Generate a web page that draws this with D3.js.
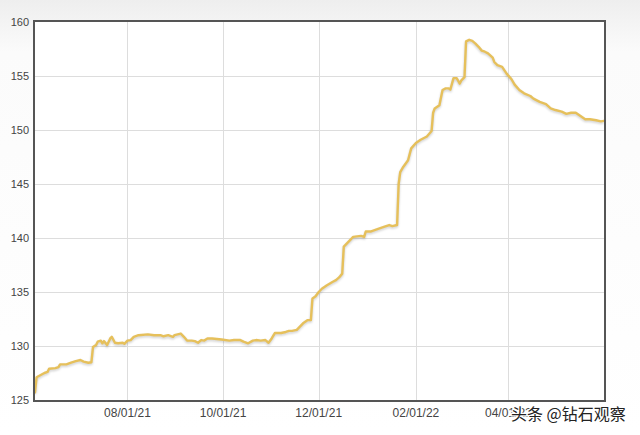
<!DOCTYPE html>
<html>
<head>
<meta charset="utf-8">
<script src="https://cdn.jsdelivr.net/npm/d3@7"></script>
<style>
  html, body { margin: 0; padding: 0; background: #fff; }
  svg { display: block; }
</style>
</head>
<body>
<svg id="chart" width="640" height="435"></svg>
<script>
const dates = [
  "2021-06-03","2021-06-04","2021-06-09","2021-06-11","2021-06-12","2021-06-16","2021-06-18","2021-06-19",
  "2021-06-23","2021-06-26","2021-06-29","2021-07-02","2021-07-04","2021-07-07","2021-07-09","2021-07-10",
  "2021-07-12","2021-07-13","2021-07-15","2021-07-16","2021-07-17","2021-07-19","2021-07-21","2021-07-22",
  "2021-07-24","2021-07-26","2021-07-29","2021-07-30","2021-08-01","2021-08-03","2021-08-05","2021-08-08",
  "2021-08-14","2021-08-18","2021-08-22","2021-08-24","2021-08-27","2021-08-30","2021-08-31","2021-09-04",
  "2021-09-06","2021-09-08","2021-09-11","2021-09-13","2021-09-15","2021-09-17","2021-09-19","2021-09-21",
  "2021-09-24","2021-09-27","2021-09-30","2021-10-05","2021-10-08","2021-10-12","2021-10-14","2021-10-17",
  "2021-10-20","2021-10-22","2021-10-25","2021-10-28","2021-10-30","2021-11-01","2021-11-03","2021-11-07",
  "2021-11-10","2021-11-12","2021-11-14","2021-11-17","2021-11-19","2021-11-21","2021-11-24","2021-11-26",
  "2021-11-27","2021-11-29","2021-12-01","2021-12-03","2021-12-06","2021-12-10","2021-12-12","2021-12-14",
  "2021-12-16","2021-12-17","2021-12-19","2021-12-23","2021-12-28","2021-12-30","2021-12-31","2022-01-03",
  "2022-01-07","2022-01-12","2022-01-15","2022-01-17","2022-01-20","2022-01-21","2022-01-22","2022-01-24",
  "2022-01-27","2022-01-29","2022-02-01","2022-02-04","2022-02-08","2022-02-11","2022-02-12","2022-02-13",
  "2022-02-16","2022-02-18","2022-02-20","2022-02-22","2022-02-23","2022-02-25","2022-02-27","2022-03-01",
  "2022-03-02","2022-03-04","2022-03-05","2022-03-07","2022-03-09","2022-03-11","2022-03-13","2022-03-15",
  "2022-03-17","2022-03-19","2022-03-22","2022-03-23","2022-03-25","2022-03-28","2022-03-31","2022-04-03",
  "2022-04-05","2022-04-08","2022-04-11","2022-04-15","2022-04-17","2022-04-21","2022-04-25","2022-04-28",
  "2022-05-01","2022-05-05","2022-05-08","2022-05-11","2022-05-14","2022-05-17","2022-05-20","2022-05-23",
  "2022-05-27","2022-05-30","2022-06-01"
];
const values = [
  125.7,127.1,127.5,127.6,127.9,127.95,128.05,128.3,
  128.3,128.45,128.6,128.7,128.55,128.45,128.5,129.9,
  130.1,130.4,130.5,130.25,130.45,130.1,130.7,130.85,
  130.3,130.25,130.3,130.2,130.5,130.55,130.85,131.0,
  131.08,131.0,131.0,130.9,131.0,130.85,131.0,131.15,
  130.85,130.5,130.5,130.45,130.3,130.55,130.5,130.7,
  130.7,130.65,130.6,130.5,130.55,130.55,130.4,130.25,
  130.5,130.55,130.5,130.55,130.3,130.7,131.2,131.2,
  131.3,131.4,131.4,131.5,131.8,132.1,132.4,132.4,
  134.4,134.6,135.0,135.3,135.6,135.95,136.1,136.35,
  136.7,139.2,139.5,140.1,140.2,140.1,140.6,140.6,
  140.8,141.05,141.2,141.1,141.2,145.0,146.1,146.6,
  147.2,148.3,148.8,149.1,149.4,149.9,151.6,152.0,
  152.3,153.7,153.85,153.85,153.75,154.8,154.8,154.3,
  154.6,154.9,158.2,158.35,158.25,158.0,157.7,157.35,
  157.25,157.1,156.7,156.3,156.0,155.85,155.2,154.7,
  154.2,153.7,153.4,153.15,152.9,152.6,152.4,152.0,
  151.85,151.7,151.5,151.6,151.6,151.3,151.0,151.0,
  150.9,150.8,150.85
];
const xTickDates = ["2021-08-01","2021-10-01","2021-12-01","2022-02-01","2022-04-01"];
const xTickLabels = ["08/01/21","10/01/21","12/01/21","02/01/22","04/01/22"];
const yTicks = [125,130,135,140,145,150,155,160];
const watermark = "头条 @钻石观察";

const parse = d3.timeParse("%Y-%m-%d");
const data = dates.map((d, i) => ({ date: parse(d), value: values[i] }));

const svg = d3.select("#chart");
const W = 640, H = 435;
const pLeft = 35, pRight = 604, pTop = 22, pBottom = 400;

// background gradient
const defs = svg.append("defs");
const grad = defs.append("linearGradient").attr("id", "bg").attr("x1", 0).attr("y1", 0).attr("x2", 0).attr("y2", 1);
grad.append("stop").attr("offset", "0").attr("stop-color", "#eeeeee");
grad.append("stop").attr("offset", "0.12").attr("stop-color", "#fbfbfb");
grad.append("stop").attr("offset", "1").attr("stop-color", "#ffffff");
svg.append("rect").attr("width", W).attr("height", H).attr("fill", "url(#bg)");

const shadow = defs.append("filter").attr("id", "shadow").attr("x", "-5%").attr("y", "-5%").attr("width", "110%").attr("height", "110%");
shadow.append("feGaussianBlur").attr("stdDeviation", 1);

const x = d3.scaleTime().domain(d3.extent(data, d => d.date)).range([pLeft, pRight]);
const y = d3.scaleLinear().domain([125, 160]).range([pBottom, pTop]);

// plot background
svg.append("rect").attr("x", pLeft - 1).attr("y", pTop - 1).attr("width", pRight - pLeft + 2).attr("height", pBottom - pTop + 2).attr("fill", "#fff");

// gridlines
svg.append("g").selectAll("line").data(yTicks.filter(v => v > 125 && v < 160)).join("line")
  .attr("x1", pLeft).attr("x2", pRight)
  .attr("y1", d => Math.round(y(d)) + 0.5).attr("y2", d => Math.round(y(d)) + 0.5)
  .attr("stroke", "#dddddd").attr("stroke-width", 1);
svg.append("g").selectAll("line").data(xTickDates).join("line")
  .attr("x1", d => Math.round(x(parse(d))) + 0.5).attr("x2", d => Math.round(x(parse(d))) + 0.5)
  .attr("y1", pTop).attr("y2", pBottom)
  .attr("stroke", "#dddddd").attr("stroke-width", 1);

// line
const line = d3.line().x(d => x(d.date)).y(d => y(d.value));
svg.append("path").datum(data).attr("d", line)
  .attr("fill", "none").attr("stroke", "rgba(0,0,0,0.18)").attr("stroke-width", 2.5)
  .attr("stroke-linejoin", "round").attr("transform", "translate(0,1.5)").attr("filter", "url(#shadow)");
svg.append("path").datum(data).attr("d", line)
  .attr("fill", "none").attr("stroke", "#e6c05b").attr("stroke-width", 2.4)
  .attr("stroke-linejoin", "round").attr("stroke-linecap", "round");

// frame
svg.append("rect").attr("x", pLeft - 1).attr("y", pTop - 1).attr("width", pRight - pLeft + 2).attr("height", pBottom - pTop + 2)
  .attr("fill", "none").attr("stroke", "#555555").attr("stroke-width", 2);

// y labels
svg.append("g").selectAll("text").data(yTicks).join("text")
  .attr("x", 29).attr("y", d => y(d)).attr("dy", "0.36em")
  .attr("text-anchor", "end")
  .attr("font-family", "Liberation Sans, Arial, sans-serif").attr("font-size", 11)
  .attr("fill", "#444").text(d => d);

// x labels
svg.append("g").selectAll("text").data(xTickDates).join("text")
  .attr("x", d => x(parse(d))).attr("y", 417)
  .attr("text-anchor", "middle")
  .attr("font-family", "Liberation Sans, Arial, sans-serif").attr("font-size", 12)
  .attr("fill", "#444").text((d, i) => xTickLabels[i]);

// watermark
svg.append("text").attr("x", 511).attr("y", 420)
  .attr("font-family", "Noto Sans CJK SC, sans-serif").attr("font-size", 16)
  .attr("fill", "#222").attr("stroke", "#fff").attr("stroke-width", 2.5).attr("paint-order", "stroke")
  .text(watermark);
</script>
</body>
</html>
